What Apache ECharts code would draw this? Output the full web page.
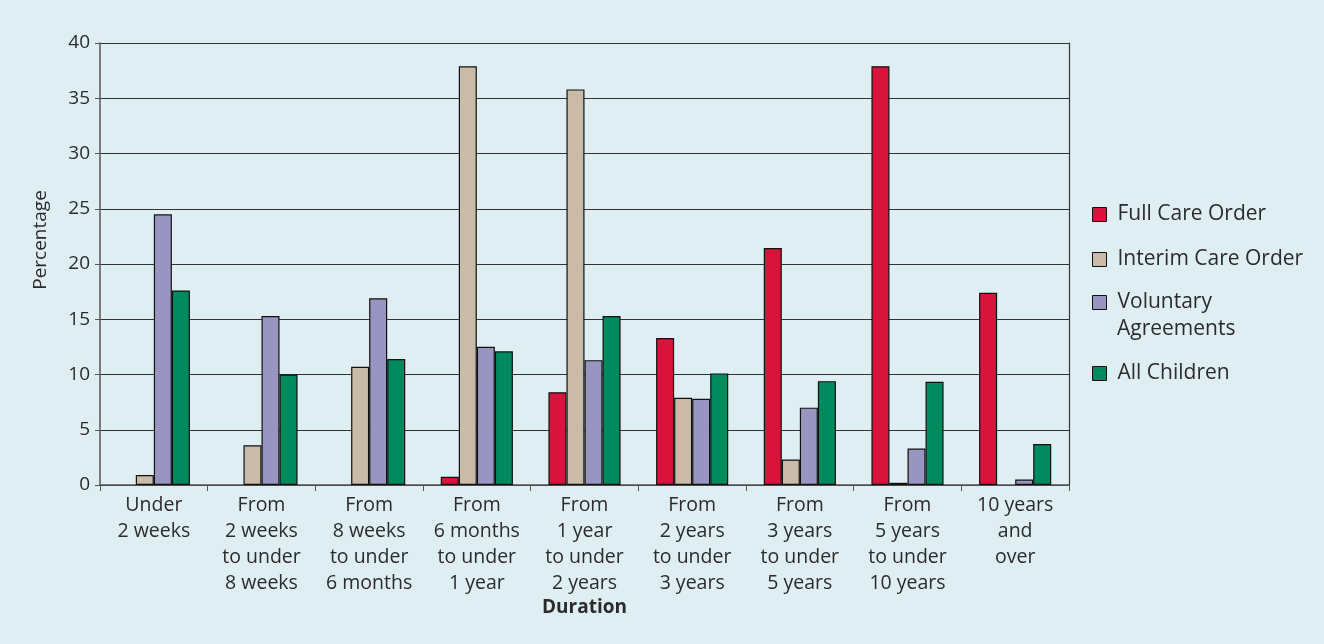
<!DOCTYPE html>
<html><head><meta charset="utf-8">
<script src="https://cdn.jsdelivr.net/npm/echarts@6/dist/echarts.min.js"></script>
<style>html,body{margin:0;padding:0;background:#deeef3}#c{width:1324px;height:644px}</style>
</head><body><div id="c"></div>
<script>
const categories = ["Under\n2 weeks","From\n2 weeks\nto under\n8 weeks","From\n8 weeks\nto under\n6 months","From\n6 months\nto under\n1 year","From\n1 year\nto under\n2 years","From\n2 years\nto under\n3 years","From\n3 years\nto under\n5 years","From\n5 years\nto under\n10 years","10 years\nand\nover"];
const fullCare = [0, 0, 0, 0.75, 8.4, 13.3, 21.45, 37.9, 17.4];
const interimCare = [0.9, 3.6, 10.7, 37.9, 35.8, 7.9, 2.3, 0.2, 0];
const voluntary = [24.5, 15.3, 16.9, 12.5, 11.3, 7.8, 7.0, 3.3, 0.5];
const allChildren = [17.6, 10.0, 11.4, 12.1, 15.3, 10.1, 9.4, 9.35, 3.7];
const seriesNames = ["Full Care Order","Interim Care Order","Voluntary Agreements","All Children"];
const legendLabels = ["Full Care Order","Interim Care Order","Voluntary","All Children"];
const legendSecondLine = "Agreements";
const yTicks = [0,5,10,15,20,25,30,35,40];

const colors = ["#d9143c","#c9bba8","#9896c1","#008a5e"];
const chart = echarts.init(document.getElementById('c'));
const font = "'Open Sans', 'Noto Sans', sans-serif";
const mk = (name, data, i) => ({
  name, type: 'bar', data: data.map(v => v === 0 ? '-' : v), barGap: '0%', barCategoryGap: '33%',
  itemStyle: {color: colors[i], borderColor: '#111', borderWidth: 1.2},
  emphasis: {disabled: true}
});
const legendTops = [204, 249, 292, 363];
chart.setOption({
  backgroundColor: '#deeef3',
  animation: false,
  textStyle: {fontFamily: font},
  grid: {left: 100, right: 255, top: 43, bottom: 159},
  title: {text: legendSecondLine, left: 1117, top: 316, padding: 0,
    textStyle: {fontFamily: font, fontSize: 21, fontWeight: 'normal', color: '#2b2b2b', lineHeight: 26}},
  legend: seriesNames.map((n, i) => ({
    data: [n], orient: 'vertical', left: 1092, top: legendTops[i], padding: 0,
    itemWidth: 14, itemHeight: 14, icon: 'rect',
    formatter: legendLabels[i],
    textStyle: {fontFamily: font, fontSize: 21, color: '#2b2b2b', padding: [0, 0, 0, 6]},
    itemStyle: {borderColor: '#111', borderWidth: 1}
  })),
  xAxis: {
    type: 'category', data: categories,
    name: 'Duration', nameLocation: 'middle', nameGap: 113, nameMoveOverlap: false,
    nameTextStyle: {fontFamily: font, fontSize: 19, fontWeight: 'bold', color: '#2b2b2b'},
    axisLine: {lineStyle: {color: '#555', width: 1.5}},
    axisTick: {show: true, length: 6, lineStyle: {color: '#555'}},
    axisLabel: {fontFamily: font, fontSize: 19.5, color: '#2b2b2b', lineHeight: 25.7, margin: 8, interval: 0}
  },
  yAxis: [{
    type: 'value', min: 0, max: 40, interval: 5,
    name: 'Percentage', nameLocation: 'middle', nameGap: 50,
    nameTextStyle: {fontFamily: font, fontSize: 19, color: '#2b2b2b', padding: [0, 0, 0, 48]},
    axisLine: {show: true, lineStyle: {color: '#555', width: 1.5}},
    axisTick: {show: true, length: 5, lineStyle: {color: '#555'}},
    axisLabel: {fontFamily: font, fontSize: 19, color: '#2b2b2b', margin: 10,
      formatter: v => yTicks.includes(v) ? String(v) : ''},
    splitLine: {show: true, lineStyle: {color: '#333', width: 1.2}}
  }, {
    type: 'value', min: 0, max: 40, interval: 5, position: 'right',
    axisLine: {show: true, lineStyle: {color: '#333', width: 1.2}},
    axisTick: {show: false}, axisLabel: {show: false}, splitLine: {show: false}
  }],
  series: [mk(seriesNames[0], fullCare, 0), mk(seriesNames[1], interimCare, 1), mk(seriesNames[2], voluntary, 2), mk(seriesNames[3], allChildren, 3)]
});
</script></body></html>
